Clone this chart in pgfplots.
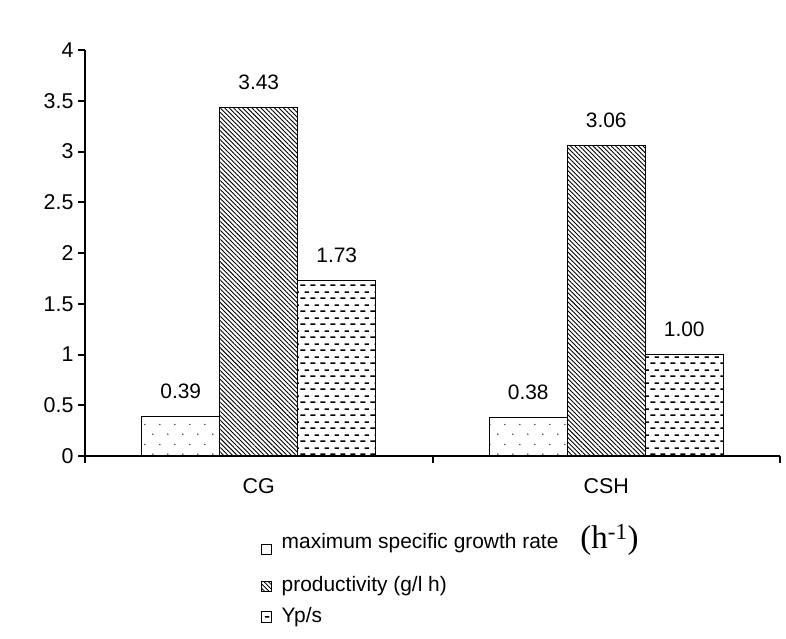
\documentclass[border=0pt]{standalone}
\usepackage{fontspec}
\setmainfont{Liberation Sans}
\newfontfamily\timesfont{Liberation Serif}
\usepackage{pgfplots}
\pgfplotsset{compat=1.18}
\usetikzlibrary{patterns,patterns.meta}

\tikzdeclarepattern{
  name=hdashes,
  type=uncolored,
  bounding box={(0bp,0bp) and (10bp,13bp)},
  tile size={(10bp,13bp)},
  code={
    \pgfsetlinewidth{1.7bp}
    \pgfpathmoveto{\pgfpoint{0.5bp}{3bp}}\pgfpathlineto{\pgfpoint{6bp}{3bp}}
    \pgfpathmoveto{\pgfpoint{5bp}{9.5bp}}\pgfpathlineto{\pgfpoint{9.8bp}{9.5bp}}
    \pgfusepath{stroke}
  }
}
\tikzdeclarepattern{
  name=sparsedots,
  type=uncolored,
  bounding box={(0bp,0bp) and (15bp,20bp)},
  tile size={(15bp,20bp)},
  code={
    \pgfpathcircle{\pgfpoint{3bp}{5bp}}{0.85bp}
    \pgfpathcircle{\pgfpoint{10.5bp}{15bp}}{0.85bp}
    \pgfusepath{fill}
  }
}

\begin{document}
\begin{tikzpicture}
\path[use as bounding box] (-85bp,-183bp) rectangle (701bp,456bp);
\begin{axis}[
  scale only axis, width=695bp, height=406bp,
  xmin=-0.5, xmax=1.5, ymin=0, ymax=4,
  axis x line*=bottom, axis y line*=left,
  axis line style={line width=2.4bp, black},
  ybar=0pt, bar width=78bp,
  ytick={0,0.5,1,1.5,2,2.5,3,3.5,4},
  yticklabels={0,0.5,1,1.5,2,2.5,3,3.5,4},
  xtick={-0.5,0.5,1.5}, xticklabels={},
  extra x ticks={0,1}, extra x tick labels={CG,CSH},
  extra x tick style={major tick length=0pt, xticklabel style={yshift=-19bp}},
  tick align=outside, major tick length=7bp,
  tick style={line width=2bp, black},
  /pgf/number format/assume math mode=true,
  tick label style={font=\fontsize{21.5}{24}\selectfont},
  yticklabel style={xshift=-1bp},
  nodes near coords,
  nodes near coords style={font=\fontsize{21}{24}\selectfont, text=black, yshift=14bp,
    /pgf/number format/fixed, /pgf/number format/fixed zerofill, /pgf/number format/precision=2},
  legend image code/.code={\draw[#1, line width=0.9bp] (0bp,-5.25bp) rectangle (10.5bp,5.25bp); \path (18bp,0bp);},
  legend style={at={(0.2523,-0.185)}, anchor=north west, draw=none, fill=none,
    font=\fontsize{21}{24}\selectfont, row sep=7bp, inner sep=0pt,
    nodes={text depth=}},
  legend cell align=left,
]
\addplot[draw=black, line width=1.2bp, pattern=sparsedots, pattern color=black!80,
  legend image code/.code={\draw[##1, line width=0.9bp] (0bp,-5.25bp) rectangle (10.5bp,5.25bp); \path (18bp,0bp) (0bp,-17.85bp);}]
  coordinates {(0,0.39) (1,0.38)};
\addplot[draw=black, line width=1.2bp, pattern={Lines[angle=-45, distance=3.2bp, line width=0.9bp]}, pattern color=black] coordinates {(0,3.43) (1,3.06)};
\addplot[draw=black, line width=1.2bp, pattern=hdashes, pattern color=black] coordinates {(0,1.73) (1,1.00)};
\legend{maximum specific growth rate\hspace{22bp}{\timesfont\fontsize{33}{33}\selectfont\smash{(h\textsuperscript{-1})}}\rule[-17bp]{0pt}{17bp},
  productivity (g/l h), Yp/s}
\end{axis}
\end{tikzpicture}
\end{document}
